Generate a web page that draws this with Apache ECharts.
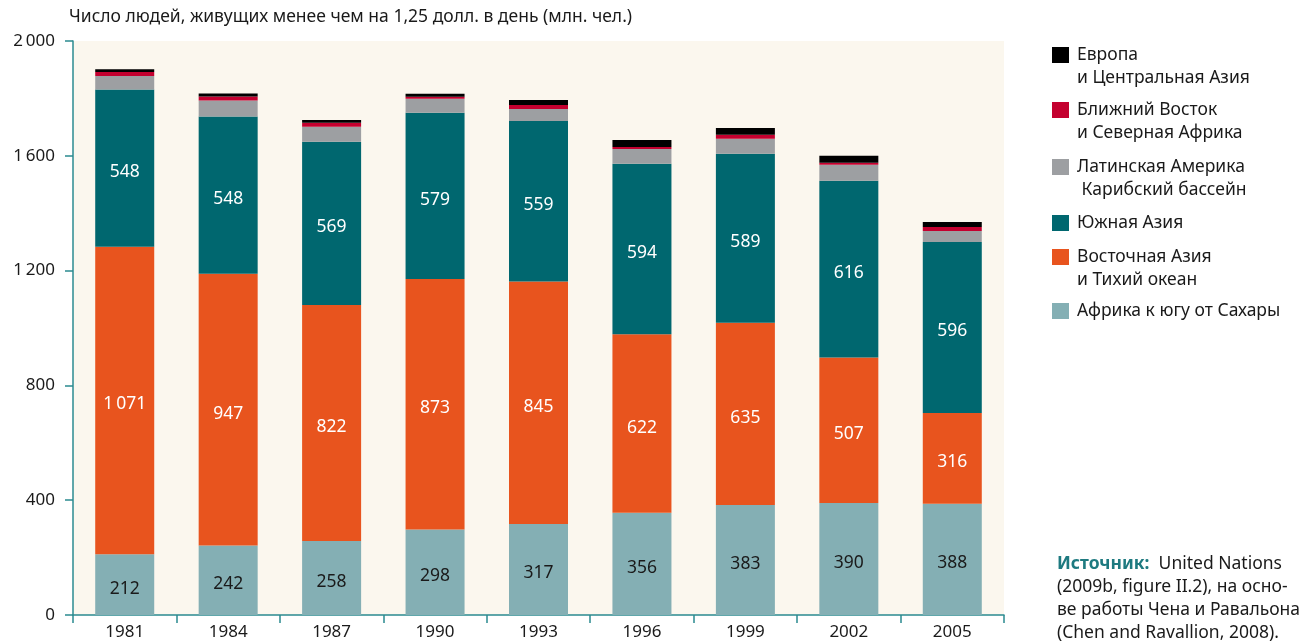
<!DOCTYPE html>
<html>
<head>
<meta charset="utf-8">
<script src="https://cdn.jsdelivr.net/npm/echarts@6/dist/echarts.min.js"></script>
<style>
html,body{margin:0;padding:0;background:#fff;}
#c{width:1304px;height:644px;}
</style>
</head>
<body>
<div id="c"></div>
<script>
// ---- data ----
const years = ['1981','1984','1987','1990','1993','1996','1999','2002','2005'];
const ssa  = [212, 242, 258, 298, 317, 356, 383, 390, 388];   // Африка к югу от Сахары
const eap  = [1071, 947, 822, 873, 845, 622, 635, 507, 316];  // Восточная Азия и Тихий океан
const sa   = [548, 548, 569, 579, 559, 594, 589, 616, 596];   // Южная Азия
const lac  = [47, 56, 52, 49, 42, 52, 52, 56, 38];            // Латинская Америка и Карибский бассейн
const mena = [14, 14, 14, 7, 14, 7, 14, 7, 14];               // Ближний Восток и Северная Африка
const eca  = [10, 10, 10, 10, 17, 24, 24, 24, 17];            // Европа и Центральная Азия
const yTicks = [0, 400, 800, 1200, 1600, 2000];

const names = {
  eca:  'Европа\nи Центральная Азия',
  mena: 'Ближний Восток\nи Северная Африка',
  lac:  'Латинская Америка\n Карибский бассейн',
  sa:   'Южная Азия',
  eap:  'Восточная Азия\nи Тихий океан',
  ssa:  'Африка к югу от Сахары'
};
const colors = {
  eca: '#000000', mena: '#C4002F', lac: '#9D9FA2',
  sa: '#00676F', eap: '#E8541E', ssa: '#84AFB4'
};

const FONT = 'Noto Sans';
const AX = '#2B8B90';
function fmt(v){
  const s = String(Math.round(v));
  return s.length > 3 ? s.slice(0, s.length-3) + '\u2009' + s.slice(-3) : s;
}

function mkSeries(key, data, labelColor){
  return {
    name: names[key], type: 'bar', stack: 'all', data: data,
    barWidth: 59,
    itemStyle: { color: colors[key] },
    label: labelColor ? {
      show: true, position: 'inside', color: labelColor,
      fontFamily: FONT, fontSize: 17.5, offset: [0, 4],
      formatter: p => fmt(p.value)
    } : { show: false },
    emphasis: { disabled: true }
  };
}

// legend positions (first-line centre y) -> one legend per item
const legendItems = [
  ['eca', 55, 2], ['mena', 110, 2], ['lac', 167, 2],
  ['sa', 223, 1], ['eap', 257, 2], ['ssa', 311, 1]
];
const LH = 23.5;
const legends = legendItems.map(([k, cy, lines]) => ({
  data: [names[k]],
  left: 1052,
  top: lines === 2 ? cy - LH*1.5 : cy - LH/2,
  padding: 0,
  itemWidth: 17, itemHeight: 16,
  icon: 'rect',
  selectedMode: false,
  formatter: n => (n.indexOf('\n') >= 0 ? ' \n' : '') + n,
  textStyle: { fontFamily: FONT, fontSize: 17.5, color: '#1a1a1a', lineHeight: LH, padding: [0,0,0,3] }
}));

const chart = echarts.init(document.getElementById('c'), null, { renderer: 'canvas' });
chart.setOption({
  animation: false,
  backgroundColor: '#ffffff',
  title: [
    {
      text: 'Число людей, живущих менее чем на 1,25 долл. в день (млн. чел.)',
      left: 69, top: 8, padding: 0,
      textStyle: { fontFamily: FONT, fontSize: 17.5, fontWeight: 'normal', color: '#1a1a1a' }
    },
    {
      text: '{b|Источник:}  United Nations\n(2009b, figure II.2), на осно-\nве работы Чена и Равальона\n(Chen and Ravallion, 2008).',
      left: 1057, top: 553, padding: 0,
      textStyle: {
        fontFamily: FONT, fontSize: 17.5, fontWeight: 'normal', color: '#1a1a1a', lineHeight: 23,
        rich: { b: { fontFamily: FONT, fontSize: 17.5, fontWeight: 'bold', color: '#1E7A80', lineHeight: 23 } }
      }
    }
  ],
  legend: legends,
  grid: { left: 73, right: 300, top: 41, bottom: 29, show: true, backgroundColor: '#FBF7EE', borderWidth: 0 },
  xAxis: {
    type: 'category', data: years,
    axisLine: { show: true, lineStyle: { color: AX, width: 1.5 } },
    axisTick: { show: true, length: 8, lineStyle: { color: AX, width: 1.5 } },
    axisLabel: { fontFamily: FONT, fontSize: 17, color: '#1a1a1a', margin: 9 }
  },
  yAxis: {
    type: 'value', min: yTicks[0], max: yTicks[yTicks.length-1], interval: 400,
    axisLine: { show: true, lineStyle: { color: AX, width: 1.5 } },
    axisTick: { show: true, length: 8, lineStyle: { color: AX, width: 1.5 } },
    splitLine: { show: false },
    axisLabel: { fontFamily: FONT, fontSize: 17, color: '#1a1a1a', margin: 18, formatter: v => fmt(v) }
  },
  series: [
    mkSeries('ssa', ssa, '#1a1a1a'),
    mkSeries('eap', eap, '#ffffff'),
    mkSeries('sa', sa, '#ffffff'),
    mkSeries('lac', lac, null),
    mkSeries('mena', mena, null),
    mkSeries('eca', eca, null)
  ]
});
</script>
</body>
</html>
